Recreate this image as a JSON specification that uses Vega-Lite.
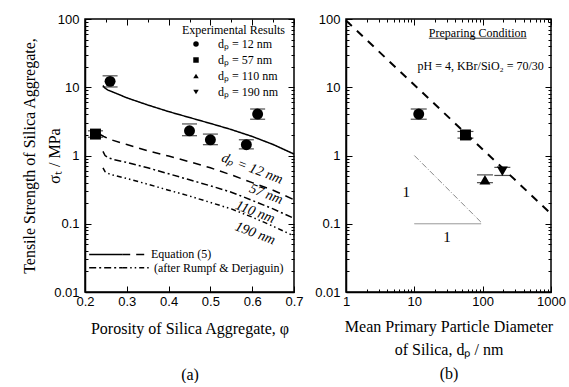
{
  "$schema": "https://vega.github.io/schema/vega-lite/v6.json",
  "background": "white",
  "padding": {"left": 20, "top": 12, "right": 2, "bottom": 0},
  "spacing": 9,
  "config": {
    "view": {"stroke": "black", "strokeWidth": 1.5},
    "font": "Liberation Serif",
    "axis": {"grid": false, "domainColor": "black", "domainWidth": 1.5, "tickColor": "black", "tickWidth": 1,
      "labelFont": "Liberation Sans", "labelFontSize": 13, "labelColor": "black",
      "titleFont": "Liberation Serif", "titleFontSize": 16, "titleFontWeight": "normal", "titleColor": "black",
      "labelFlush": false, "labelBound": false, "labelOverlap": false},
    "legend": {"titleFont": "Liberation Serif", "titleFontSize": 12, "titleFontWeight": "normal", "titleColor": "black",
      "labelFont": "Liberation Serif", "labelFontSize": 12, "labelColor": "black", "padding": 0, "rowPadding": 4}
  },
  "datasets": {
    "a_pts": [
      {"phi": 0.26, "sigma": 12.2, "lo": 10.1, "hi": 14.7, "dp": "dₚ = 12 nm"},
      {"phi": 0.45, "sigma": 2.3, "lo": 1.95, "hi": 2.9, "dp": "dₚ = 12 nm"},
      {"phi": 0.50, "sigma": 1.7, "lo": 1.44, "hi": 2.06, "dp": "dₚ = 12 nm"},
      {"phi": 0.586, "sigma": 1.44, "lo": 1.25, "hi": 1.7, "dp": "dₚ = 12 nm"},
      {"phi": 0.613, "sigma": 4.05, "lo": 3.4, "hi": 4.8, "dp": "dₚ = 12 nm"},
      {"phi": 0.225, "sigma": 2.06, "lo": 1.85, "hi": 2.3, "dp": "dₚ = 57 nm"}
    ],
    "a_lines": [
      {"phi": 0.243, "sigma": 10.6, "dp": "12 nm", "g": "c12"},
      {"phi": 0.247, "sigma": 9.8, "dp": "12 nm", "g": "c12"},
      {"phi": 0.255, "sigma": 9.1, "dp": "12 nm", "g": "c12"},
      {"phi": 0.265, "sigma": 8.6, "dp": "12 nm", "g": "c12"},
      {"phi": 0.3, "sigma": 7.0, "dp": "12 nm", "g": "c12"},
      {"phi": 0.35, "sigma": 5.5, "dp": "12 nm", "g": "c12"},
      {"phi": 0.4, "sigma": 4.4, "dp": "12 nm", "g": "c12"},
      {"phi": 0.45, "sigma": 3.6, "dp": "12 nm", "g": "c12"},
      {"phi": 0.5, "sigma": 2.95, "dp": "12 nm", "g": "c12"},
      {"phi": 0.55, "sigma": 2.4, "dp": "12 nm", "g": "c12"},
      {"phi": 0.6, "sigma": 1.9, "dp": "12 nm", "g": "c12"},
      {"phi": 0.65, "sigma": 1.45, "dp": "12 nm", "g": "c12"},
      {"phi": 0.7, "sigma": 1.05, "dp": "12 nm", "g": "c12"},
      {"phi": 0.235, "sigma": 2.05, "dp": "57 nm", "g": "c57"},
      {"phi": 0.245, "sigma": 1.9, "dp": "57 nm", "g": "c57"},
      {"phi": 0.26, "sigma": 1.72, "dp": "57 nm", "g": "c57"},
      {"phi": 0.3, "sigma": 1.45, "dp": "57 nm", "g": "c57"},
      {"phi": 0.35, "sigma": 1.17, "dp": "57 nm", "g": "c57"},
      {"phi": 0.4, "sigma": 0.98, "dp": "57 nm", "g": "c57"},
      {"phi": 0.45, "sigma": 0.81, "dp": "57 nm", "g": "c57"},
      {"phi": 0.5, "sigma": 0.66, "dp": "57 nm", "g": "c57"},
      {"phi": 0.55, "sigma": 0.52, "dp": "57 nm", "g": "c57"},
      {"phi": 0.6, "sigma": 0.40, "dp": "57 nm", "g": "c57"},
      {"phi": 0.65, "sigma": 0.31, "dp": "57 nm", "g": "c57"},
      {"phi": 0.7, "sigma": 0.225, "dp": "57 nm", "g": "c57"},
      {"phi": 0.243, "sigma": 1.15, "dp": "110 nm", "g": "c110"},
      {"phi": 0.248, "sigma": 1.0, "dp": "110 nm", "g": "c110"},
      {"phi": 0.255, "sigma": 0.93, "dp": "110 nm", "g": "c110"},
      {"phi": 0.27, "sigma": 0.87, "dp": "110 nm", "g": "c110"},
      {"phi": 0.3, "sigma": 0.79, "dp": "110 nm", "g": "c110"},
      {"phi": 0.35, "sigma": 0.66, "dp": "110 nm", "g": "c110"},
      {"phi": 0.4, "sigma": 0.54, "dp": "110 nm", "g": "c110"},
      {"phi": 0.45, "sigma": 0.44, "dp": "110 nm", "g": "c110"},
      {"phi": 0.5, "sigma": 0.36, "dp": "110 nm", "g": "c110"},
      {"phi": 0.55, "sigma": 0.29, "dp": "110 nm", "g": "c110"},
      {"phi": 0.6, "sigma": 0.22, "dp": "110 nm", "g": "c110"},
      {"phi": 0.65, "sigma": 0.165, "dp": "110 nm", "g": "c110"},
      {"phi": 0.7, "sigma": 0.12, "dp": "110 nm", "g": "c110"},
      {"phi": 0.243, "sigma": 0.66, "dp": "190 nm", "g": "c190"},
      {"phi": 0.248, "sigma": 0.58, "dp": "190 nm", "g": "c190"},
      {"phi": 0.26, "sigma": 0.53, "dp": "190 nm", "g": "c190"},
      {"phi": 0.3, "sigma": 0.46, "dp": "190 nm", "g": "c190"},
      {"phi": 0.35, "sigma": 0.38, "dp": "190 nm", "g": "c190"},
      {"phi": 0.4, "sigma": 0.31, "dp": "190 nm", "g": "c190"},
      {"phi": 0.45, "sigma": 0.255, "dp": "190 nm", "g": "c190"},
      {"phi": 0.5, "sigma": 0.205, "dp": "190 nm", "g": "c190"},
      {"phi": 0.55, "sigma": 0.165, "dp": "190 nm", "g": "c190"},
      {"phi": 0.6, "sigma": 0.125, "dp": "190 nm", "g": "c190"},
      {"phi": 0.65, "sigma": 0.092, "dp": "190 nm", "g": "c190"},
      {"phi": 0.7, "sigma": 0.066, "dp": "190 nm", "g": "c190"},
      {"phi": 0.21, "sigma": 0.0355, "dp": "12 nm", "g": "k1"},
      {"phi": 0.289, "sigma": 0.0355, "dp": "12 nm", "g": "k1"},
      {"phi": 0.289, "sigma": 0.0355, "dp": "57 nm", "g": "k2"},
      {"phi": 0.353, "sigma": 0.0355, "dp": "57 nm", "g": "k2"},
      {"phi": 0.21, "sigma": 0.0226, "dp": "110 nm", "g": "k3"},
      {"phi": 0.289, "sigma": 0.0226, "dp": "110 nm", "g": "k3"},
      {"phi": 0.289, "sigma": 0.0226, "dp": "190 nm", "g": "k4"},
      {"phi": 0.355, "sigma": 0.0226, "dp": "190 nm", "g": "k4"}
    ],
    "a_curve_labels": [
      {"phi": 0.6, "sigma": 0.64, "text": "dₚ = 12 nm"},
      {"phi": 0.633, "sigma": 0.27, "text": "57 nm"},
      {"phi": 0.607, "sigma": 0.148, "text": "110 nm"},
      {"phi": 0.607, "sigma": 0.072, "text": "190 nm"}
    ],
    "a_key_text": [
      {"phi": 0.358, "sigma": 0.0355, "text": "Equation (5)"},
      {"phi": 0.365, "sigma": 0.0226, "text": "(after Rumpf & Derjaguin)"}
    ],
    "b_pts": [
      {"d": 11.6, "sigma": 4.05, "lo": 3.4, "hi": 4.8, "dp": "dₚ = 12 nm"},
      {"d": 56, "sigma": 2.0, "lo": 1.8, "hi": 2.25, "dp": "dₚ = 57 nm"},
      {"d": 108, "sigma": 0.44, "lo": 0.40, "hi": 0.52, "dp": "dₚ = 110 nm"},
      {"d": 194, "sigma": 0.59, "lo": 0.51, "hi": 0.67, "dp": "dₚ = 190 nm"}
    ],
    "b_fit": [
      {"d": 1, "sigma": 95},
      {"d": 1000, "sigma": 0.14}
    ],
    "b_tri": [
      {"d": 10, "sigma": 1, "g": "hyp"},
      {"d": 95, "sigma": 0.105, "g": "hyp"},
      {"d": 10, "sigma": 0.1, "g": "base"},
      {"d": 95, "sigma": 0.1, "g": "base"}
    ],
    "b_ul": [
      {"d": 16.3, "sigma": 52.3},
      {"d": 439, "sigma": 52.3}
    ],
    "b_notes": [
      {"d": 84.5, "sigma": 61.6, "text": "Preparing Condition"},
      {"d": 93.5, "sigma": 20.7, "text": "pH = 4, KBr/SiO₂ = 70/30"}
    ],
    "b_ones": [
      {"d": 7.6, "sigma": 0.29, "text": "1"},
      {"d": 30, "sigma": 0.065, "text": "1"}
    ]
  },
  "resolve": {"scale": {"shape": "independent", "strokeDash": "independent"}, "legend": {"shape": "independent", "strokeDash": "independent"}},
  "hconcat": [
    {
      "width": 209,
      "height": 273,
      "resolve": {"axis": {"x": "independent", "y": "independent"}},
      "layer": [
        {
          "layer": [
            {
              "data": {"name": "a_lines"},
              "mark": {"type": "line", "color": "black", "strokeWidth": 1.5},
              "encoding": {
                "x": {"field": "phi", "type": "quantitative",
                  "scale": {"domain": [0.2, 0.7], "nice": false, "zero": false},
                  "axis": {"title": ["Porosity of Silica Aggregate, φ", "(a)"], "titleLineHeight": 46, "titlePadding": 12,
                    "values": [0.2, 0.25, 0.3, 0.35, 0.4, 0.45, 0.5, 0.55, 0.6, 0.65, 0.7],
                    "labelExpr": "abs(datum.value*10 - round(datum.value*10)) < 0.001 ? format(datum.value, '.1f') : ''",
                    "tickSize": {"condition": {"test": "abs(datum.value*10 - round(datum.value*10)) < 0.001", "value": -6}, "value": -3},
                    "labelPadding": 9}},
                "y": {"field": "sigma", "type": "quantitative",
                  "scale": {"type": "log", "domain": [0.01, 100], "nice": false},
                  "axis": {"title": ["Tensile Strength of Silica Aggregate,", "σₜ / MPa"], "titleLineHeight": 25, "titlePadding": -9,
                    "values": [0.01, 0.02, 0.03, 0.04, 0.05, 0.06, 0.07, 0.08, 0.09, 0.1, 0.2, 0.3, 0.4, 0.5, 0.6, 0.7, 0.8, 0.9, 1, 2, 3, 4, 5, 6, 7, 8, 9, 10, 20, 30, 40, 50, 60, 70, 80, 90, 100],
                    "labelExpr": "indexof([0.01, 0.1, 1, 10, 100], datum.value) >= 0 ? format(datum.value, '~g') : ''",
                    "tickSize": {"condition": {"test": "indexof([0.01, 0.1, 1, 10, 100], datum.value) >= 0", "value": -6}, "value": -3},
                    "labelPadding": 12}},
                "strokeDash": {"field": "dp", "type": "nominal",
                  "scale": {"domain": ["12 nm", "57 nm", "110 nm", "190 nm"], "range": [[1, 0], [8, 6], [7, 3, 2, 3], [5, 3, 1.5, 3, 1.5, 3]]},
                  "legend": null},
                "detail": {"field": "g", "type": "nominal"}
              }
            },
            {
              "data": {"name": "a_pts"},
              "transform": [{"fold": ["lo", "hi"], "as": ["cap", "sigma"]}],
              "mark": {"type": "tick", "orient": "horizontal", "color": "black", "size": 15, "thickness": 1.2},
              "encoding": {
                "x": {"field": "phi", "type": "quantitative"},
                "y": {"field": "sigma", "type": "quantitative"}
              }
            },
            {
              "data": {"name": "a_pts"},
              "mark": {"type": "point", "filled": true, "color": "black", "opacity": 1, "size": 120},
              "encoding": {
                "x": {"field": "phi", "type": "quantitative"},
                "y": {"field": "sigma", "type": "quantitative"},
                "shape": {"field": "dp", "type": "nominal",
                  "scale": {"domain": ["dₚ = 12 nm", "dₚ = 57 nm", "dₚ = 110 nm", "dₚ = 190 nm"], "range": ["circle", "square", "triangle-up", "triangle-down"]},
                  "legend": {"orient": "none", "legendX": 97, "legendY": 6, "title": "Experimental Results", "titleAnchor": "start", "titleAlign": "left", "titlePadding": 1, "symbolSize": 30, "labelOffset": 16, "symbolOffset": 8, "symbolFillColor": "black", "symbolStrokeColor": "black"}}
              }
            },
            {
              "data": {"name": "a_curve_labels"},
              "mark": {"type": "text", "font": "Liberation Serif", "fontSize": 14, "fontStyle": "italic", "angle": 21, "align": "center", "baseline": "middle", "color": "black"},
              "encoding": {
                "x": {"field": "phi", "type": "quantitative"},
                "y": {"field": "sigma", "type": "quantitative"},
                "text": {"field": "text"}
              }
            },
            {
              "data": {"name": "a_key_text"},
              "mark": {"type": "text", "font": "Liberation Serif", "fontSize": 12, "align": "left", "baseline": "middle", "color": "black"},
              "encoding": {
                "x": {"field": "phi", "type": "quantitative"},
                "y": {"field": "sigma", "type": "quantitative"},
                "text": {"field": "text"}
              }
            }
          ]
        },
        {
          "data": {"name": "a_pts"},
          "mark": {"type": "point", "opacity": 0},
          "encoding": {
            "x": {"field": "phi", "type": "quantitative",
              "axis": {"orient": "top", "title": null, "labels": false, "domain": false,
                "values": [0.2, 0.25, 0.3, 0.35, 0.4, 0.45, 0.5, 0.55, 0.6, 0.65, 0.7],
                "tickSize": {"condition": {"test": "abs(datum.value*10 - round(datum.value*10)) < 0.001", "value": -6}, "value": -3}}},
            "y": {"field": "sigma", "type": "quantitative",
              "axis": {"orient": "right", "title": null, "labels": false, "domain": false,
                "values": [0.01, 0.02, 0.03, 0.04, 0.05, 0.06, 0.07, 0.08, 0.09, 0.1, 0.2, 0.3, 0.4, 0.5, 0.6, 0.7, 0.8, 0.9, 1, 2, 3, 4, 5, 6, 7, 8, 9, 10, 20, 30, 40, 50, 60, 70, 80, 90, 100],
                "tickSize": {"condition": {"test": "indexof([0.01, 0.1, 1, 10, 100], datum.value) >= 0", "value": -6}, "value": -3}}}
          }
        }
      ]
    },
    {
      "width": 205,
      "height": 273,
      "resolve": {"axis": {"x": "independent", "y": "independent"}},
      "layer": [
        {
          "layer": [
            {
              "data": {"name": "b_fit"},
              "mark": {"type": "line", "color": "black", "strokeWidth": 2, "strokeDash": [8, 7]},
              "encoding": {
                "x": {"field": "d", "type": "quantitative",
                  "scale": {"type": "log", "domain": [1, 1000], "nice": false},
                  "axis": {"title": ["Mean Primary Particle Diameter", "of Silica, dₚ / nm", "(b)"], "titleLineHeight": 23.5, "titlePadding": 7,
                    "values": [1, 2, 3, 4, 5, 6, 7, 8, 9, 10, 20, 30, 40, 50, 60, 70, 80, 90, 100, 200, 300, 400, 500, 600, 700, 800, 900, 1000],
                    "labelExpr": "indexof([1, 10, 100, 1000], datum.value) >= 0 ? format(datum.value, 'd') : ''",
                    "tickSize": {"condition": {"test": "indexof([1, 10, 100, 1000], datum.value) >= 0", "value": -6}, "value": -3},
                    "labelPadding": 9}},
                "y": {"field": "sigma", "type": "quantitative",
                  "scale": {"type": "log", "domain": [0.01, 100], "nice": false},
                  "axis": {"title": null,
                    "values": [0.01, 0.02, 0.03, 0.04, 0.05, 0.06, 0.07, 0.08, 0.09, 0.1, 0.2, 0.3, 0.4, 0.5, 0.6, 0.7, 0.8, 0.9, 1, 2, 3, 4, 5, 6, 7, 8, 9, 10, 20, 30, 40, 50, 60, 70, 80, 90, 100],
                    "labelExpr": "indexof([0.01, 0.1, 1, 10, 100], datum.value) >= 0 ? format(datum.value, '~g') : ''",
                    "tickSize": {"condition": {"test": "indexof([0.01, 0.1, 1, 10, 100], datum.value) >= 0", "value": -6}, "value": -3},
                    "labelPadding": 12}}
              }
            },
            {
              "data": {"name": "b_tri"},
              "mark": {"type": "line", "color": "#888888", "strokeWidth": 1},
              "encoding": {
                "x": {"field": "d", "type": "quantitative"},
                "y": {"field": "sigma", "type": "quantitative"},
                "strokeDash": {"field": "g", "type": "nominal", "scale": {"domain": ["hyp", "base"], "range": [[6, 2, 1, 2], [1, 0]]}, "legend": null},
                "detail": {"field": "g", "type": "nominal"}
              }
            },
            {
              "data": {"name": "b_ul"},
              "mark": {"type": "line", "color": "black", "strokeWidth": 0.8},
              "encoding": {
                "x": {"field": "d", "type": "quantitative"},
                "y": {"field": "sigma", "type": "quantitative"}
              }
            },
            {
              "data": {"name": "b_pts"},
              "transform": [{"fold": ["lo", "hi"], "as": ["cap", "sigma"]}],
              "mark": {"type": "tick", "orient": "horizontal", "color": "black", "size": 16, "thickness": 1.2},
              "encoding": {
                "x": {"field": "d", "type": "quantitative"},
                "y": {"field": "sigma", "type": "quantitative"}
              }
            },
            {
              "data": {"name": "b_pts"},
              "mark": {"type": "point", "filled": true, "color": "black", "opacity": 1, "size": 120},
              "encoding": {
                "x": {"field": "d", "type": "quantitative"},
                "y": {"field": "sigma", "type": "quantitative"},
                "shape": {"field": "dp", "type": "nominal",
                  "scale": {"domain": ["dₚ = 12 nm", "dₚ = 57 nm", "dₚ = 110 nm", "dₚ = 190 nm"], "range": ["circle", "square", "triangle-up", "triangle-down"]},
                  "legend": null}
              }
            },
            {
              "data": {"name": "b_notes"},
              "mark": {"type": "text", "font": "Liberation Serif", "fontSize": 12, "align": "center", "baseline": "middle", "color": "black"},
              "encoding": {
                "x": {"field": "d", "type": "quantitative"},
                "y": {"field": "sigma", "type": "quantitative"},
                "text": {"field": "text"}
              }
            },
            {
              "data": {"name": "b_ones"},
              "mark": {"type": "text", "font": "Liberation Serif", "fontSize": 15, "align": "center", "baseline": "middle", "color": "black"},
              "encoding": {
                "x": {"field": "d", "type": "quantitative"},
                "y": {"field": "sigma", "type": "quantitative"},
                "text": {"field": "text"}
              }
            }
          ]
        },
        {
          "data": {"name": "b_pts"},
          "mark": {"type": "point", "opacity": 0},
          "encoding": {
            "x": {"field": "d", "type": "quantitative",
              "axis": {"orient": "top", "title": null, "labels": false, "domain": false,
                "values": [1, 2, 3, 4, 5, 6, 7, 8, 9, 10, 20, 30, 40, 50, 60, 70, 80, 90, 100, 200, 300, 400, 500, 600, 700, 800, 900, 1000],
                "tickSize": {"condition": {"test": "indexof([1, 10, 100, 1000], datum.value) >= 0", "value": -6}, "value": -3}}},
            "y": {"field": "sigma", "type": "quantitative",
              "axis": {"orient": "right", "title": null, "labels": false, "domain": false,
                "values": [0.01, 0.02, 0.03, 0.04, 0.05, 0.06, 0.07, 0.08, 0.09, 0.1, 0.2, 0.3, 0.4, 0.5, 0.6, 0.7, 0.8, 0.9, 1, 2, 3, 4, 5, 6, 7, 8, 9, 10, 20, 30, 40, 50, 60, 70, 80, 90, 100],
                "tickSize": {"condition": {"test": "indexof([0.01, 0.1, 1, 10, 100], datum.value) >= 0", "value": -6}, "value": -3}}}
          }
        }
      ]
    }
  ]
}
